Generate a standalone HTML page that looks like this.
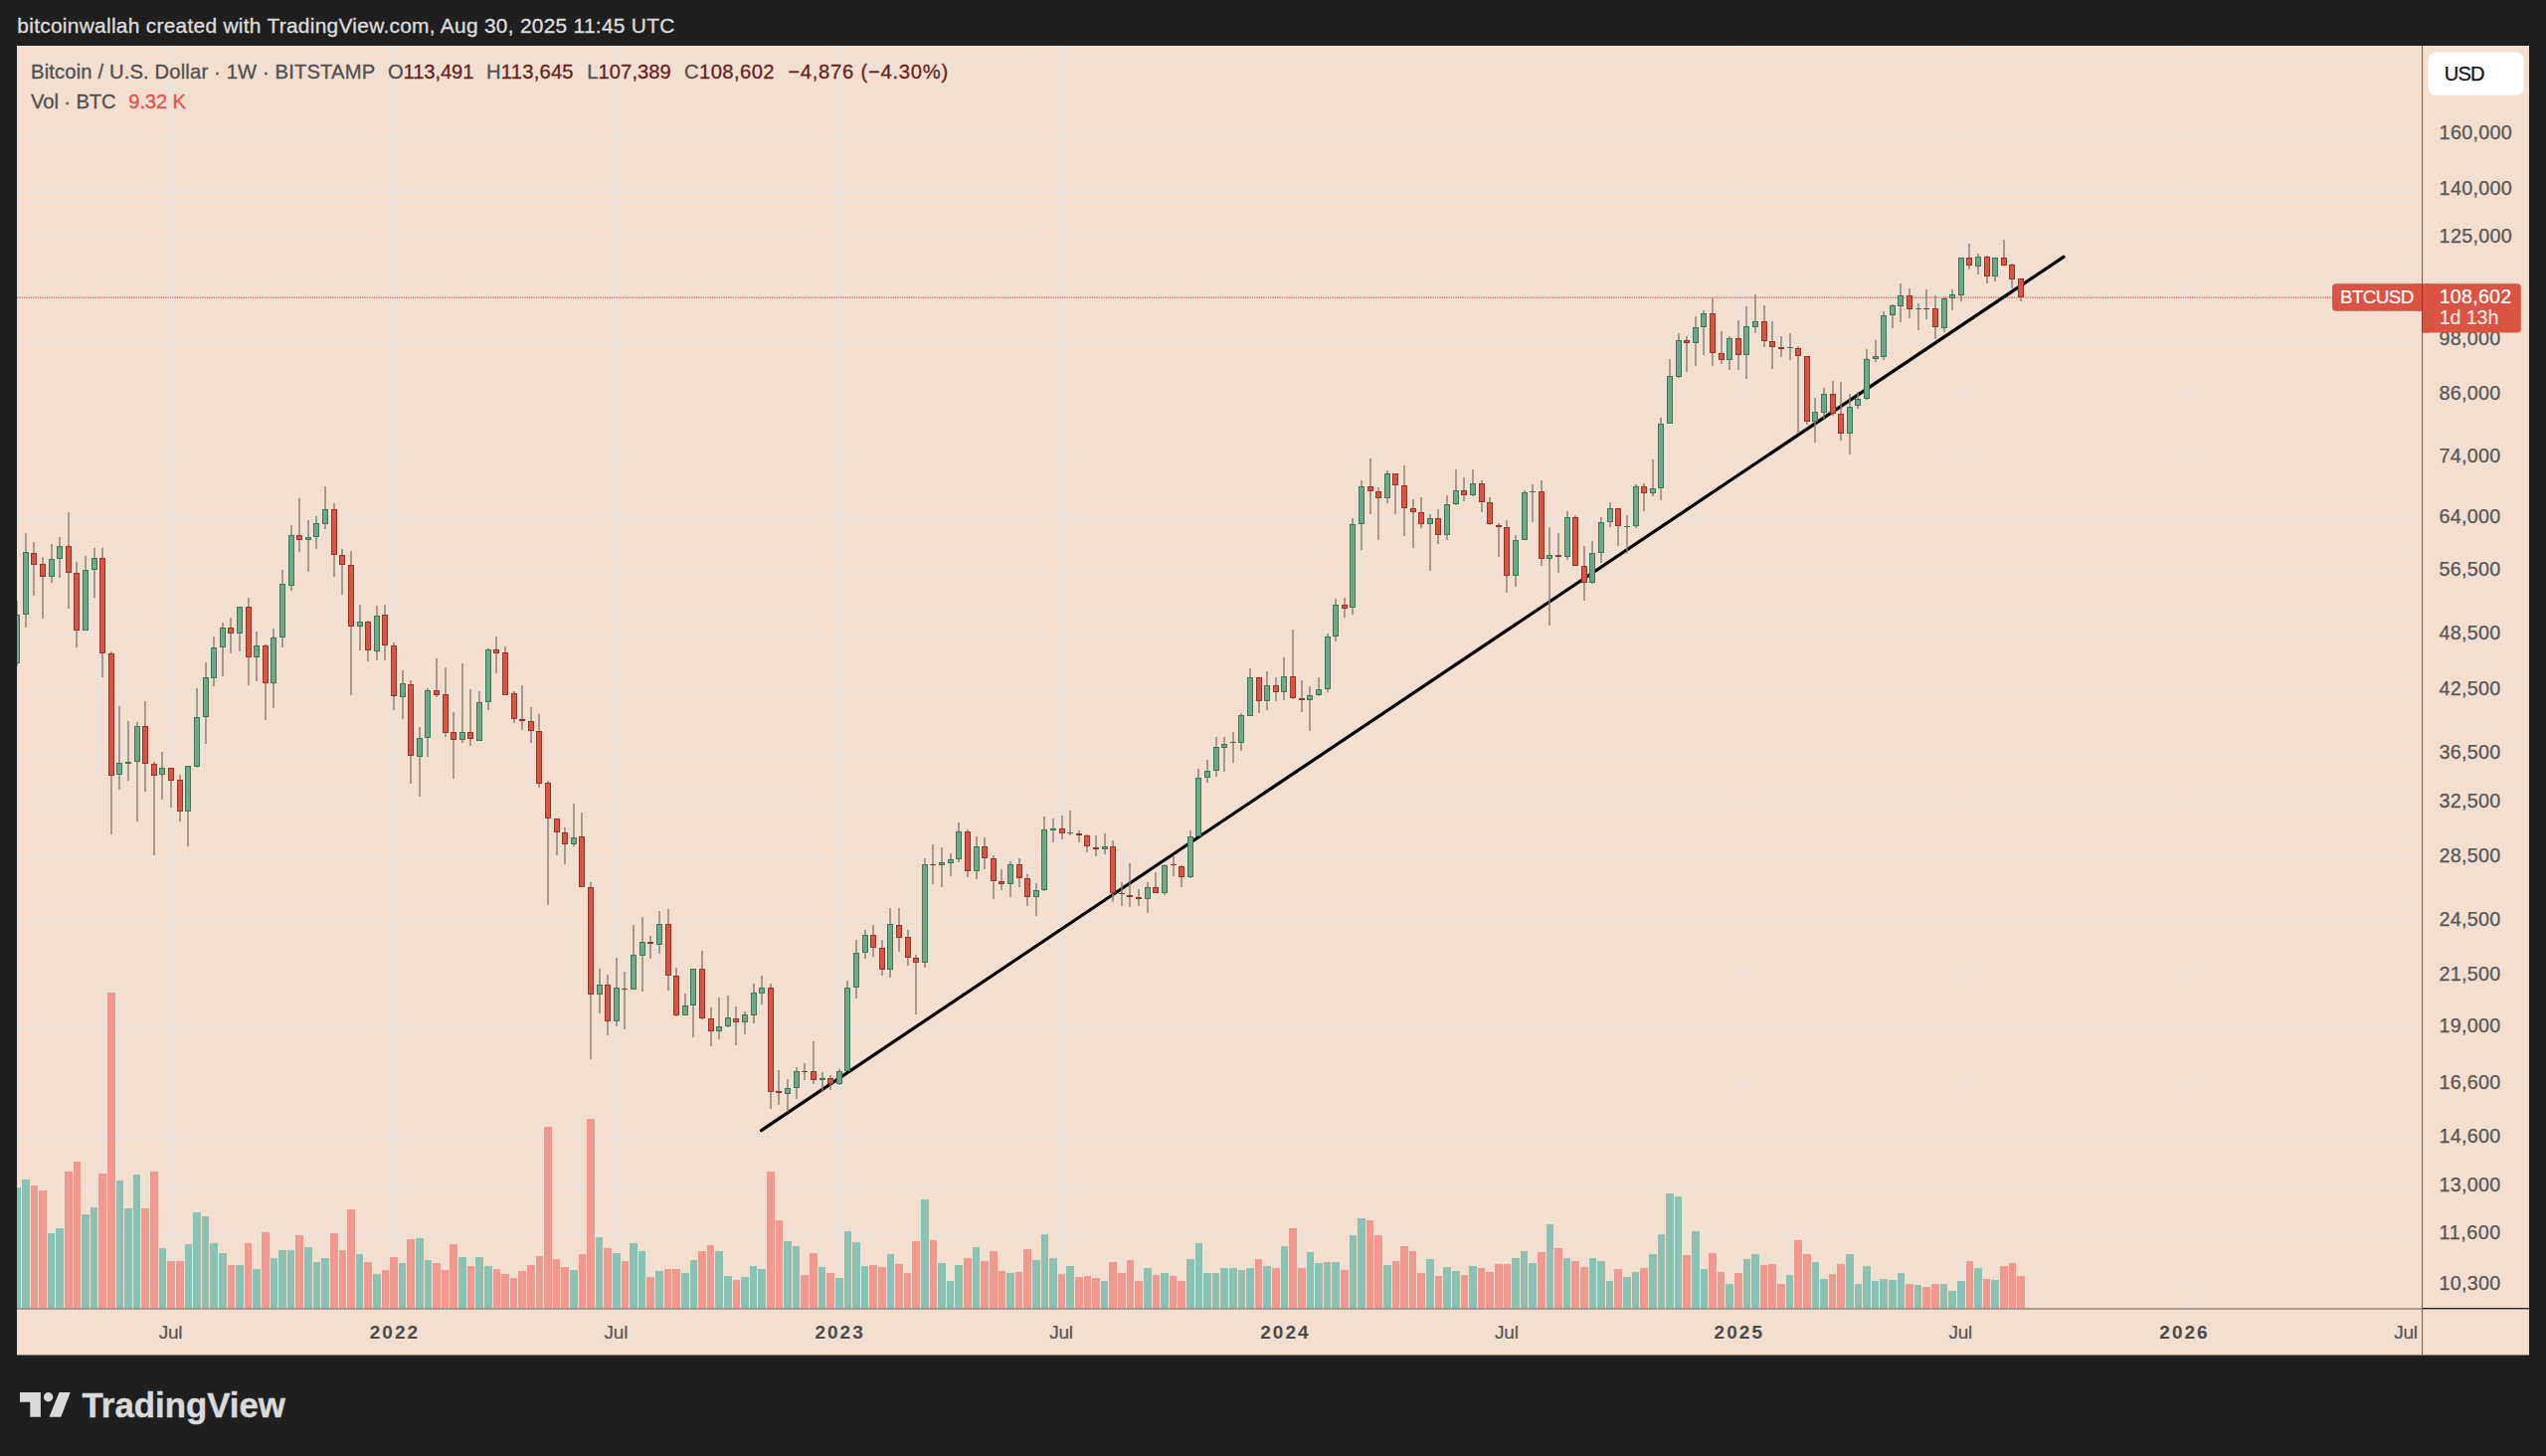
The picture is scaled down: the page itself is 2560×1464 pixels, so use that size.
<!DOCTYPE html>
<html lang="en"><head><meta charset="utf-8"><title>BTCUSD chart</title>
<style>html,body{margin:0;padding:0;background:#1f1f1f;}svg{display:block;}</style></head>
<body>
<svg width="2560" height="1464" viewBox="0 0 2560 1464" font-family="'Liberation Sans', Arial, sans-serif">
<rect width="2560" height="1464" fill="#1f1f1f"/>
<rect x="17" y="46" width="2526" height="1316.5" fill="#f2dfcf"/>
<defs><clipPath id="plot"><rect x="17" y="46" width="2418.5" height="1269.5"/></clipPath></defs>
<g stroke="#e6e4e4" stroke-width="1" shape-rendering="crispEdges">
<line x1="17" x2="2435" y1="63.5" y2="63.5"/>
<line x1="17" x2="2435" y1="135.5" y2="135.5"/>
<line x1="17" x2="2435" y1="192.5" y2="192.5"/>
<line x1="17" x2="2435" y1="239.5" y2="239.5"/>
<line x1="17" x2="2435" y1="293.5" y2="293.5"/>
<line x1="17" x2="2435" y1="342.5" y2="342.5"/>
<line x1="17" x2="2435" y1="397.5" y2="397.5"/>
<line x1="17" x2="2435" y1="460.5" y2="460.5"/>
<line x1="17" x2="2435" y1="521.5" y2="521.5"/>
<line x1="17" x2="2435" y1="574.5" y2="574.5"/>
<line x1="17" x2="2435" y1="638.5" y2="638.5"/>
<line x1="17" x2="2435" y1="694.5" y2="694.5"/>
<line x1="17" x2="2435" y1="758.5" y2="758.5"/>
<line x1="17" x2="2435" y1="807.5" y2="807.5"/>
<line x1="17" x2="2435" y1="862.5" y2="862.5"/>
<line x1="17" x2="2435" y1="926.5" y2="926.5"/>
<line x1="17" x2="2435" y1="981.5" y2="981.5"/>
<line x1="17" x2="2435" y1="1033.5" y2="1033.5"/>
<line x1="17" x2="2435" y1="1090.5" y2="1090.5"/>
<line x1="17" x2="2435" y1="1144.5" y2="1144.5"/>
<line x1="17" x2="2435" y1="1193.5" y2="1193.5"/>
<line x1="17" x2="2435" y1="1241.5" y2="1241.5"/>
<line x1="17" x2="2435" y1="1291.5" y2="1291.5"/>
<line x1="172.5" x2="172.5" y1="46" y2="1315"/>
<line x1="396.5" x2="396.5" y1="46" y2="1315"/>
<line x1="620.5" x2="620.5" y1="46" y2="1315"/>
<line x1="844.5" x2="844.5" y1="46" y2="1315"/>
<line x1="1068.5" x2="1068.5" y1="46" y2="1315"/>
<line x1="1291.5" x2="1291.5" y1="46" y2="1315"/>
<line x1="1515.5" x2="1515.5" y1="46" y2="1315"/>
<line x1="1748.5" x2="1748.5" y1="46" y2="1315"/>
<line x1="1972.5" x2="1972.5" y1="46" y2="1315"/>
<line x1="2196.5" x2="2196.5" y1="46" y2="1315"/>
<line x1="2419.5" x2="2419.5" y1="46" y2="1315"/>
</g>
<g clip-path="url(#plot)">
<g shape-rendering="crispEdges">
<rect x="13" y="1194.4" width="8" height="121.1" fill="rgba(38,166,154,0.5)"/>
<rect x="22" y="1186.2" width="8" height="129.3" fill="rgba(38,166,154,0.5)"/>
<rect x="31" y="1191.8" width="7" height="123.7" fill="rgba(239,83,80,0.5)"/>
<rect x="39" y="1197.2" width="8" height="118.3" fill="rgba(239,83,80,0.5)"/>
<rect x="48" y="1240.4" width="7" height="75.1" fill="rgba(38,166,154,0.5)"/>
<rect x="56" y="1235.0" width="8" height="80.5" fill="rgba(38,166,154,0.5)"/>
<rect x="65" y="1177.8" width="8" height="137.7" fill="rgba(239,83,80,0.5)"/>
<rect x="74" y="1168.0" width="7" height="147.5" fill="rgba(239,83,80,0.5)"/>
<rect x="82" y="1221.0" width="8" height="94.5" fill="rgba(38,166,154,0.5)"/>
<rect x="91" y="1214.2" width="7" height="101.3" fill="rgba(38,166,154,0.5)"/>
<rect x="99" y="1180.4" width="8" height="135.1" fill="rgba(239,83,80,0.5)"/>
<rect x="108" y="998.0" width="8" height="317.5" fill="rgba(239,83,80,0.5)"/>
<rect x="117" y="1187.2" width="7" height="128.3" fill="rgba(38,166,154,0.5)"/>
<rect x="125" y="1215.2" width="8" height="100.3" fill="rgba(38,166,154,0.5)"/>
<rect x="134" y="1181.3" width="7" height="134.2" fill="rgba(38,166,154,0.5)"/>
<rect x="142" y="1215.2" width="8" height="100.3" fill="rgba(239,83,80,0.5)"/>
<rect x="151" y="1177.8" width="8" height="137.7" fill="rgba(239,83,80,0.5)"/>
<rect x="160" y="1254.9" width="7" height="60.6" fill="rgba(38,166,154,0.5)"/>
<rect x="168" y="1268.0" width="8" height="47.5" fill="rgba(239,83,80,0.5)"/>
<rect x="177" y="1268.0" width="8" height="47.5" fill="rgba(239,83,80,0.5)"/>
<rect x="186" y="1250.9" width="7" height="64.6" fill="rgba(38,166,154,0.5)"/>
<rect x="194" y="1218.9" width="8" height="96.6" fill="rgba(38,166,154,0.5)"/>
<rect x="203" y="1222.9" width="7" height="92.6" fill="rgba(38,166,154,0.5)"/>
<rect x="211" y="1250.2" width="8" height="65.3" fill="rgba(38,166,154,0.5)"/>
<rect x="220" y="1259.5" width="8" height="56.0" fill="rgba(38,166,154,0.5)"/>
<rect x="229" y="1272.4" width="7" height="43.1" fill="rgba(239,83,80,0.5)"/>
<rect x="237" y="1272.4" width="8" height="43.1" fill="rgba(38,166,154,0.5)"/>
<rect x="246" y="1250.2" width="7" height="65.3" fill="rgba(239,83,80,0.5)"/>
<rect x="254" y="1276.1" width="8" height="39.4" fill="rgba(38,166,154,0.5)"/>
<rect x="263" y="1238.8" width="8" height="76.7" fill="rgba(239,83,80,0.5)"/>
<rect x="272" y="1264.9" width="7" height="50.6" fill="rgba(38,166,154,0.5)"/>
<rect x="280" y="1257.4" width="8" height="58.1" fill="rgba(38,166,154,0.5)"/>
<rect x="289" y="1256.5" width="7" height="59.0" fill="rgba(38,166,154,0.5)"/>
<rect x="297" y="1242.3" width="8" height="73.2" fill="rgba(239,83,80,0.5)"/>
<rect x="306" y="1253.9" width="8" height="61.6" fill="rgba(38,166,154,0.5)"/>
<rect x="315" y="1269.1" width="7" height="46.4" fill="rgba(38,166,154,0.5)"/>
<rect x="323" y="1264.9" width="8" height="50.6" fill="rgba(38,166,154,0.5)"/>
<rect x="332" y="1240.4" width="8" height="75.1" fill="rgba(239,83,80,0.5)"/>
<rect x="341" y="1257.4" width="7" height="58.1" fill="rgba(239,83,80,0.5)"/>
<rect x="349" y="1216.2" width="8" height="99.3" fill="rgba(239,83,80,0.5)"/>
<rect x="358" y="1261.2" width="7" height="54.3" fill="rgba(38,166,154,0.5)"/>
<rect x="366" y="1268.9" width="8" height="46.6" fill="rgba(239,83,80,0.5)"/>
<rect x="375" y="1281.1" width="8" height="34.4" fill="rgba(38,166,154,0.5)"/>
<rect x="384" y="1277.1" width="7" height="38.4" fill="rgba(239,83,80,0.5)"/>
<rect x="392" y="1264.1" width="8" height="51.4" fill="rgba(239,83,80,0.5)"/>
<rect x="401" y="1269.6" width="7" height="45.9" fill="rgba(38,166,154,0.5)"/>
<rect x="409" y="1246.2" width="8" height="69.3" fill="rgba(239,83,80,0.5)"/>
<rect x="418" y="1245.2" width="8" height="70.3" fill="rgba(38,166,154,0.5)"/>
<rect x="427" y="1267.1" width="7" height="48.4" fill="rgba(38,166,154,0.5)"/>
<rect x="435" y="1269.6" width="8" height="45.9" fill="rgba(239,83,80,0.5)"/>
<rect x="444" y="1277.1" width="7" height="38.4" fill="rgba(239,83,80,0.5)"/>
<rect x="452" y="1251.0" width="8" height="64.5" fill="rgba(239,83,80,0.5)"/>
<rect x="461" y="1264.1" width="8" height="51.4" fill="rgba(38,166,154,0.5)"/>
<rect x="470" y="1273.3" width="7" height="42.2" fill="rgba(239,83,80,0.5)"/>
<rect x="478" y="1264.1" width="8" height="51.4" fill="rgba(38,166,154,0.5)"/>
<rect x="487" y="1273.3" width="8" height="42.2" fill="rgba(38,166,154,0.5)"/>
<rect x="496" y="1276.2" width="7" height="39.3" fill="rgba(239,83,80,0.5)"/>
<rect x="504" y="1281.1" width="8" height="34.4" fill="rgba(239,83,80,0.5)"/>
<rect x="513" y="1284.7" width="7" height="30.8" fill="rgba(239,83,80,0.5)"/>
<rect x="521" y="1278.1" width="8" height="37.4" fill="rgba(239,83,80,0.5)"/>
<rect x="530" y="1272.3" width="8" height="43.2" fill="rgba(239,83,80,0.5)"/>
<rect x="539" y="1263.2" width="7" height="52.2" fill="rgba(239,83,80,0.5)"/>
<rect x="547" y="1133.3" width="8" height="182.2" fill="rgba(239,83,80,0.5)"/>
<rect x="556" y="1266.0" width="7" height="49.5" fill="rgba(239,83,80,0.5)"/>
<rect x="564" y="1274.2" width="8" height="41.2" fill="rgba(239,83,80,0.5)"/>
<rect x="573" y="1277.1" width="8" height="38.4" fill="rgba(38,166,154,0.5)"/>
<rect x="582" y="1261.2" width="7" height="54.3" fill="rgba(239,83,80,0.5)"/>
<rect x="590" y="1125.1" width="8" height="190.4" fill="rgba(239,83,80,0.5)"/>
<rect x="599" y="1244.3" width="7" height="71.2" fill="rgba(38,166,154,0.5)"/>
<rect x="607" y="1254.7" width="8" height="60.8" fill="rgba(239,83,80,0.5)"/>
<rect x="616" y="1260.2" width="8" height="55.3" fill="rgba(38,166,154,0.5)"/>
<rect x="625" y="1267.9" width="7" height="47.6" fill="rgba(239,83,80,0.5)"/>
<rect x="633" y="1250.0" width="8" height="65.5" fill="rgba(38,166,154,0.5)"/>
<rect x="642" y="1258.3" width="7" height="57.2" fill="rgba(38,166,154,0.5)"/>
<rect x="650" y="1283.9" width="8" height="31.6" fill="rgba(239,83,80,0.5)"/>
<rect x="659" y="1278.1" width="8" height="37.4" fill="rgba(38,166,154,0.5)"/>
<rect x="668" y="1276.2" width="7" height="39.3" fill="rgba(239,83,80,0.5)"/>
<rect x="676" y="1276.2" width="8" height="39.3" fill="rgba(239,83,80,0.5)"/>
<rect x="685" y="1280.2" width="8" height="35.3" fill="rgba(38,166,154,0.5)"/>
<rect x="694" y="1267.1" width="7" height="48.4" fill="rgba(38,166,154,0.5)"/>
<rect x="702" y="1257.5" width="8" height="58.0" fill="rgba(239,83,80,0.5)"/>
<rect x="711" y="1252.0" width="7" height="63.5" fill="rgba(239,83,80,0.5)"/>
<rect x="719" y="1258.4" width="8" height="57.1" fill="rgba(38,166,154,0.5)"/>
<rect x="728" y="1283.0" width="8" height="32.5" fill="rgba(38,166,154,0.5)"/>
<rect x="737" y="1286.6" width="7" height="28.9" fill="rgba(239,83,80,0.5)"/>
<rect x="745" y="1283.9" width="8" height="31.6" fill="rgba(38,166,154,0.5)"/>
<rect x="754" y="1273.3" width="7" height="42.2" fill="rgba(38,166,154,0.5)"/>
<rect x="762" y="1276.3" width="8" height="39.2" fill="rgba(38,166,154,0.5)"/>
<rect x="771" y="1178.4" width="8" height="137.1" fill="rgba(239,83,80,0.5)"/>
<rect x="780" y="1226.5" width="7" height="89.0" fill="rgba(239,83,80,0.5)"/>
<rect x="788" y="1248.1" width="8" height="67.4" fill="rgba(38,166,154,0.5)"/>
<rect x="797" y="1252.9" width="7" height="62.6" fill="rgba(38,166,154,0.5)"/>
<rect x="805" y="1282.0" width="8" height="33.5" fill="rgba(239,83,80,0.5)"/>
<rect x="814" y="1260.2" width="8" height="55.3" fill="rgba(239,83,80,0.5)"/>
<rect x="823" y="1274.4" width="7" height="41.1" fill="rgba(38,166,154,0.5)"/>
<rect x="831" y="1280.2" width="8" height="35.3" fill="rgba(239,83,80,0.5)"/>
<rect x="840" y="1285.0" width="8" height="30.5" fill="rgba(38,166,154,0.5)"/>
<rect x="849" y="1237.8" width="7" height="77.7" fill="rgba(38,166,154,0.5)"/>
<rect x="857" y="1249.1" width="8" height="66.4" fill="rgba(38,166,154,0.5)"/>
<rect x="866" y="1272.6" width="7" height="42.9" fill="rgba(38,166,154,0.5)"/>
<rect x="874" y="1271.5" width="8" height="44.0" fill="rgba(239,83,80,0.5)"/>
<rect x="883" y="1274.4" width="8" height="41.1" fill="rgba(239,83,80,0.5)"/>
<rect x="892" y="1261.2" width="7" height="54.3" fill="rgba(38,166,154,0.5)"/>
<rect x="900" y="1270.8" width="8" height="44.7" fill="rgba(239,83,80,0.5)"/>
<rect x="909" y="1280.2" width="7" height="35.3" fill="rgba(239,83,80,0.5)"/>
<rect x="917" y="1248.1" width="8" height="67.4" fill="rgba(239,83,80,0.5)"/>
<rect x="926" y="1206.1" width="8" height="109.4" fill="rgba(38,166,154,0.5)"/>
<rect x="935" y="1247.2" width="7" height="68.3" fill="rgba(239,83,80,0.5)"/>
<rect x="943" y="1269.7" width="8" height="45.8" fill="rgba(38,166,154,0.5)"/>
<rect x="952" y="1287.5" width="7" height="28.0" fill="rgba(38,166,154,0.5)"/>
<rect x="960" y="1271.5" width="8" height="44.0" fill="rgba(38,166,154,0.5)"/>
<rect x="969" y="1265.0" width="8" height="50.5" fill="rgba(239,83,80,0.5)"/>
<rect x="978" y="1253.8" width="7" height="61.7" fill="rgba(38,166,154,0.5)"/>
<rect x="986" y="1267.9" width="8" height="47.6" fill="rgba(239,83,80,0.5)"/>
<rect x="995" y="1257.5" width="8" height="58.0" fill="rgba(239,83,80,0.5)"/>
<rect x="1004" y="1278.1" width="7" height="37.4" fill="rgba(239,83,80,0.5)"/>
<rect x="1012" y="1280.2" width="8" height="35.3" fill="rgba(38,166,154,0.5)"/>
<rect x="1021" y="1279.2" width="7" height="36.3" fill="rgba(239,83,80,0.5)"/>
<rect x="1029" y="1255.7" width="8" height="59.8" fill="rgba(239,83,80,0.5)"/>
<rect x="1038" y="1267.1" width="8" height="48.4" fill="rgba(38,166,154,0.5)"/>
<rect x="1047" y="1240.6" width="7" height="74.9" fill="rgba(38,166,154,0.5)"/>
<rect x="1055" y="1265.0" width="8" height="50.5" fill="rgba(38,166,154,0.5)"/>
<rect x="1064" y="1281.1" width="7" height="34.4" fill="rgba(239,83,80,0.5)"/>
<rect x="1072" y="1273.3" width="8" height="42.2" fill="rgba(38,166,154,0.5)"/>
<rect x="1081" y="1283.9" width="8" height="31.6" fill="rgba(239,83,80,0.5)"/>
<rect x="1090" y="1283.0" width="7" height="32.5" fill="rgba(239,83,80,0.5)"/>
<rect x="1098" y="1284.7" width="8" height="30.8" fill="rgba(239,83,80,0.5)"/>
<rect x="1107" y="1287.5" width="7" height="28.0" fill="rgba(38,166,154,0.5)"/>
<rect x="1115" y="1268.9" width="8" height="46.6" fill="rgba(239,83,80,0.5)"/>
<rect x="1124" y="1280.2" width="8" height="35.3" fill="rgba(239,83,80,0.5)"/>
<rect x="1133" y="1267.1" width="7" height="48.4" fill="rgba(239,83,80,0.5)"/>
<rect x="1141" y="1287.5" width="8" height="28.0" fill="rgba(239,83,80,0.5)"/>
<rect x="1150" y="1275.3" width="8" height="40.2" fill="rgba(38,166,154,0.5)"/>
<rect x="1159" y="1282.2" width="7" height="33.3" fill="rgba(239,83,80,0.5)"/>
<rect x="1167" y="1280.2" width="8" height="35.3" fill="rgba(38,166,154,0.5)"/>
<rect x="1176" y="1283.0" width="7" height="32.5" fill="rgba(239,83,80,0.5)"/>
<rect x="1184" y="1287.5" width="8" height="28.0" fill="rgba(239,83,80,0.5)"/>
<rect x="1193" y="1266.0" width="8" height="49.5" fill="rgba(38,166,154,0.5)"/>
<rect x="1202" y="1250.0" width="7" height="65.5" fill="rgba(38,166,154,0.5)"/>
<rect x="1210" y="1280.2" width="8" height="35.3" fill="rgba(38,166,154,0.5)"/>
<rect x="1219" y="1280.2" width="7" height="35.3" fill="rgba(38,166,154,0.5)"/>
<rect x="1227" y="1275.3" width="8" height="40.2" fill="rgba(38,166,154,0.5)"/>
<rect x="1236" y="1275.3" width="8" height="40.2" fill="rgba(38,166,154,0.5)"/>
<rect x="1245" y="1277.1" width="7" height="38.4" fill="rgba(38,166,154,0.5)"/>
<rect x="1253" y="1275.3" width="8" height="40.2" fill="rgba(38,166,154,0.5)"/>
<rect x="1262" y="1266.0" width="7" height="49.5" fill="rgba(239,83,80,0.5)"/>
<rect x="1270" y="1273.3" width="8" height="42.2" fill="rgba(38,166,154,0.5)"/>
<rect x="1279" y="1275.3" width="8" height="40.2" fill="rgba(239,83,80,0.5)"/>
<rect x="1288" y="1252.9" width="7" height="62.6" fill="rgba(38,166,154,0.5)"/>
<rect x="1296" y="1235.2" width="8" height="80.3" fill="rgba(239,83,80,0.5)"/>
<rect x="1305" y="1275.3" width="8" height="40.2" fill="rgba(239,83,80,0.5)"/>
<rect x="1314" y="1259.4" width="7" height="56.1" fill="rgba(38,166,154,0.5)"/>
<rect x="1322" y="1269.8" width="8" height="45.7" fill="rgba(38,166,154,0.5)"/>
<rect x="1331" y="1268.9" width="7" height="46.6" fill="rgba(38,166,154,0.5)"/>
<rect x="1339" y="1268.9" width="8" height="46.6" fill="rgba(38,166,154,0.5)"/>
<rect x="1348" y="1277.1" width="8" height="38.4" fill="rgba(239,83,80,0.5)"/>
<rect x="1357" y="1242.3" width="7" height="73.2" fill="rgba(38,166,154,0.5)"/>
<rect x="1365" y="1224.8" width="8" height="90.7" fill="rgba(38,166,154,0.5)"/>
<rect x="1374" y="1226.5" width="7" height="89.0" fill="rgba(239,83,80,0.5)"/>
<rect x="1382" y="1242.3" width="8" height="73.2" fill="rgba(239,83,80,0.5)"/>
<rect x="1391" y="1271.5" width="8" height="44.0" fill="rgba(38,166,154,0.5)"/>
<rect x="1400" y="1267.9" width="7" height="47.6" fill="rgba(239,83,80,0.5)"/>
<rect x="1408" y="1252.9" width="8" height="62.6" fill="rgba(239,83,80,0.5)"/>
<rect x="1417" y="1257.5" width="7" height="58.0" fill="rgba(239,83,80,0.5)"/>
<rect x="1425" y="1280.2" width="8" height="35.3" fill="rgba(239,83,80,0.5)"/>
<rect x="1434" y="1266.0" width="8" height="49.5" fill="rgba(38,166,154,0.5)"/>
<rect x="1443" y="1283.0" width="7" height="32.5" fill="rgba(239,83,80,0.5)"/>
<rect x="1451" y="1274.4" width="8" height="41.1" fill="rgba(38,166,154,0.5)"/>
<rect x="1460" y="1278.1" width="8" height="37.4" fill="rgba(38,166,154,0.5)"/>
<rect x="1469" y="1282.2" width="7" height="33.3" fill="rgba(239,83,80,0.5)"/>
<rect x="1477" y="1273.3" width="8" height="42.2" fill="rgba(38,166,154,0.5)"/>
<rect x="1486" y="1275.3" width="7" height="40.2" fill="rgba(239,83,80,0.5)"/>
<rect x="1494" y="1279.2" width="8" height="36.3" fill="rgba(239,83,80,0.5)"/>
<rect x="1503" y="1270.8" width="8" height="44.7" fill="rgba(239,83,80,0.5)"/>
<rect x="1512" y="1270.8" width="7" height="44.7" fill="rgba(239,83,80,0.5)"/>
<rect x="1520" y="1265.0" width="8" height="50.5" fill="rgba(38,166,154,0.5)"/>
<rect x="1529" y="1258.4" width="7" height="57.1" fill="rgba(38,166,154,0.5)"/>
<rect x="1537" y="1269.8" width="8" height="45.7" fill="rgba(38,166,154,0.5)"/>
<rect x="1546" y="1259.4" width="8" height="56.1" fill="rgba(239,83,80,0.5)"/>
<rect x="1555" y="1231.4" width="7" height="84.1" fill="rgba(38,166,154,0.5)"/>
<rect x="1563" y="1254.7" width="8" height="60.8" fill="rgba(239,83,80,0.5)"/>
<rect x="1572" y="1265.0" width="7" height="50.5" fill="rgba(38,166,154,0.5)"/>
<rect x="1580" y="1267.9" width="8" height="47.6" fill="rgba(239,83,80,0.5)"/>
<rect x="1589" y="1274.4" width="8" height="41.1" fill="rgba(239,83,80,0.5)"/>
<rect x="1598" y="1265.0" width="7" height="50.5" fill="rgba(38,166,154,0.5)"/>
<rect x="1606" y="1267.9" width="8" height="47.6" fill="rgba(38,166,154,0.5)"/>
<rect x="1615" y="1287.5" width="7" height="28.0" fill="rgba(38,166,154,0.5)"/>
<rect x="1623" y="1276.3" width="8" height="39.2" fill="rgba(239,83,80,0.5)"/>
<rect x="1632" y="1283.9" width="8" height="31.6" fill="rgba(38,166,154,0.5)"/>
<rect x="1641" y="1279.2" width="7" height="36.3" fill="rgba(38,166,154,0.5)"/>
<rect x="1649" y="1275.3" width="8" height="40.2" fill="rgba(239,83,80,0.5)"/>
<rect x="1658" y="1261.2" width="8" height="54.3" fill="rgba(38,166,154,0.5)"/>
<rect x="1667" y="1240.6" width="7" height="74.9" fill="rgba(38,166,154,0.5)"/>
<rect x="1675" y="1200.3" width="8" height="115.2" fill="rgba(38,166,154,0.5)"/>
<rect x="1684" y="1203.2" width="7" height="112.3" fill="rgba(38,166,154,0.5)"/>
<rect x="1692" y="1262.3" width="8" height="53.2" fill="rgba(239,83,80,0.5)"/>
<rect x="1701" y="1237.8" width="8" height="77.7" fill="rgba(38,166,154,0.5)"/>
<rect x="1710" y="1276.3" width="7" height="39.2" fill="rgba(38,166,154,0.5)"/>
<rect x="1718" y="1260.2" width="8" height="55.3" fill="rgba(239,83,80,0.5)"/>
<rect x="1727" y="1279.2" width="7" height="36.3" fill="rgba(239,83,80,0.5)"/>
<rect x="1735" y="1290.5" width="8" height="25.0" fill="rgba(38,166,154,0.5)"/>
<rect x="1744" y="1280.2" width="8" height="35.3" fill="rgba(239,83,80,0.5)"/>
<rect x="1753" y="1266.0" width="7" height="49.5" fill="rgba(38,166,154,0.5)"/>
<rect x="1761" y="1261.2" width="8" height="54.3" fill="rgba(38,166,154,0.5)"/>
<rect x="1770" y="1271.5" width="7" height="44.0" fill="rgba(239,83,80,0.5)"/>
<rect x="1778" y="1270.8" width="8" height="44.7" fill="rgba(239,83,80,0.5)"/>
<rect x="1787" y="1291.3" width="8" height="24.2" fill="rgba(239,83,80,0.5)"/>
<rect x="1796" y="1282.2" width="7" height="33.3" fill="rgba(38,166,154,0.5)"/>
<rect x="1804" y="1247.2" width="8" height="68.3" fill="rgba(239,83,80,0.5)"/>
<rect x="1813" y="1261.2" width="8" height="54.3" fill="rgba(239,83,80,0.5)"/>
<rect x="1822" y="1268.9" width="7" height="46.6" fill="rgba(38,166,154,0.5)"/>
<rect x="1830" y="1285.8" width="8" height="29.7" fill="rgba(38,166,154,0.5)"/>
<rect x="1839" y="1281.1" width="7" height="34.4" fill="rgba(239,83,80,0.5)"/>
<rect x="1847" y="1270.8" width="8" height="44.7" fill="rgba(239,83,80,0.5)"/>
<rect x="1856" y="1261.2" width="8" height="54.3" fill="rgba(38,166,154,0.5)"/>
<rect x="1865" y="1291.3" width="7" height="24.2" fill="rgba(38,166,154,0.5)"/>
<rect x="1873" y="1273.3" width="8" height="42.2" fill="rgba(38,166,154,0.5)"/>
<rect x="1882" y="1287.5" width="7" height="28.0" fill="rgba(38,166,154,0.5)"/>
<rect x="1890" y="1285.8" width="8" height="29.7" fill="rgba(38,166,154,0.5)"/>
<rect x="1899" y="1286.6" width="8" height="28.9" fill="rgba(38,166,154,0.5)"/>
<rect x="1908" y="1280.2" width="7" height="35.3" fill="rgba(38,166,154,0.5)"/>
<rect x="1916" y="1291.3" width="8" height="24.2" fill="rgba(239,83,80,0.5)"/>
<rect x="1925" y="1292.3" width="7" height="23.2" fill="rgba(38,166,154,0.5)"/>
<rect x="1933" y="1294.2" width="8" height="21.3" fill="rgba(239,83,80,0.5)"/>
<rect x="1942" y="1291.3" width="8" height="24.2" fill="rgba(239,83,80,0.5)"/>
<rect x="1951" y="1290.5" width="7" height="25.0" fill="rgba(38,166,154,0.5)"/>
<rect x="1959" y="1298.0" width="8" height="17.5" fill="rgba(38,166,154,0.5)"/>
<rect x="1968" y="1287.5" width="8" height="28.0" fill="rgba(38,166,154,0.5)"/>
<rect x="1977" y="1267.9" width="7" height="47.6" fill="rgba(239,83,80,0.5)"/>
<rect x="1985" y="1275.3" width="8" height="40.2" fill="rgba(38,166,154,0.5)"/>
<rect x="1994" y="1285.8" width="7" height="29.7" fill="rgba(239,83,80,0.5)"/>
<rect x="2002" y="1286.6" width="8" height="28.9" fill="rgba(38,166,154,0.5)"/>
<rect x="2011" y="1272.6" width="8" height="42.9" fill="rgba(239,83,80,0.5)"/>
<rect x="2020" y="1269.8" width="7" height="45.7" fill="rgba(239,83,80,0.5)"/>
<rect x="2028" y="1283.0" width="8" height="32.5" fill="rgba(239,83,80,0.5)"/>
</g>
<line x1="17" x2="2435" y1="299.2" y2="299.2" stroke="#d95442" stroke-width="1.6" stroke-dasharray="1.1 1.2" opacity="0.85"/>
<line x1="765.5" y1="1136.7" x2="2074.9" y2="258.3" stroke="#000" stroke-width="3.2" stroke-linecap="round"/>
<g fill="#827c78">
<rect x="16.3" y="604" width="1.4" height="66"/>
<rect x="25.3" y="536" width="1.4" height="95"/>
<rect x="33.3" y="545" width="1.4" height="54"/>
<rect x="42.3" y="560" width="1.4" height="62"/>
<rect x="51.3" y="547" width="1.4" height="39"/>
<rect x="59.3" y="540" width="1.4" height="41"/>
<rect x="68.3" y="515" width="1.4" height="97"/>
<rect x="76.3" y="565" width="1.4" height="86"/>
<rect x="85.3" y="559" width="1.4" height="75"/>
<rect x="94.3" y="551" width="1.4" height="50"/>
<rect x="102.3" y="551" width="1.4" height="130"/>
<rect x="111.3" y="655" width="1.4" height="184"/>
<rect x="119.3" y="710" width="1.4" height="84"/>
<rect x="128.3" y="725" width="1.4" height="60"/>
<rect x="137.3" y="726" width="1.4" height="100"/>
<rect x="145.3" y="705" width="1.4" height="91"/>
<rect x="154.3" y="766" width="1.4" height="94"/>
<rect x="162.3" y="756" width="1.4" height="48"/>
<rect x="171.3" y="772" width="1.4" height="40"/>
<rect x="180.3" y="779" width="1.4" height="47"/>
<rect x="188.3" y="770" width="1.4" height="81"/>
<rect x="197.3" y="692" width="1.4" height="80"/>
<rect x="206.3" y="666" width="1.4" height="82"/>
<rect x="214.3" y="640" width="1.4" height="50"/>
<rect x="223.3" y="626" width="1.4" height="54"/>
<rect x="231.3" y="621" width="1.4" height="36"/>
<rect x="240.3" y="610" width="1.4" height="45"/>
<rect x="249.3" y="601" width="1.4" height="88"/>
<rect x="257.3" y="635" width="1.4" height="50"/>
<rect x="266.3" y="648" width="1.4" height="76"/>
<rect x="274.3" y="632" width="1.4" height="80"/>
<rect x="283.3" y="573" width="1.4" height="78"/>
<rect x="292.3" y="528" width="1.4" height="66"/>
<rect x="300.3" y="501" width="1.4" height="54"/>
<rect x="309.3" y="523" width="1.4" height="52"/>
<rect x="317.3" y="519" width="1.4" height="33"/>
<rect x="326.3" y="489" width="1.4" height="43"/>
<rect x="335.3" y="506" width="1.4" height="74"/>
<rect x="343.3" y="552" width="1.4" height="46"/>
<rect x="352.3" y="554" width="1.4" height="145"/>
<rect x="361.3" y="608" width="1.4" height="46"/>
<rect x="369.3" y="624" width="1.4" height="41"/>
<rect x="378.3" y="609" width="1.4" height="55"/>
<rect x="386.3" y="608" width="1.4" height="56"/>
<rect x="395.3" y="646" width="1.4" height="68"/>
<rect x="404.3" y="674" width="1.4" height="49"/>
<rect x="412.3" y="684" width="1.4" height="104"/>
<rect x="421.3" y="731" width="1.4" height="70"/>
<rect x="429.3" y="692" width="1.4" height="69"/>
<rect x="438.3" y="662" width="1.4" height="39"/>
<rect x="447.3" y="671" width="1.4" height="70"/>
<rect x="455.3" y="716" width="1.4" height="67"/>
<rect x="464.3" y="667" width="1.4" height="80"/>
<rect x="472.3" y="693" width="1.4" height="57"/>
<rect x="481.3" y="695" width="1.4" height="50"/>
<rect x="490.3" y="652" width="1.4" height="62"/>
<rect x="498.3" y="640" width="1.4" height="37"/>
<rect x="507.3" y="650" width="1.4" height="49"/>
<rect x="516.3" y="695" width="1.4" height="32"/>
<rect x="524.3" y="689" width="1.4" height="45"/>
<rect x="533.3" y="711" width="1.4" height="36"/>
<rect x="541.3" y="718" width="1.4" height="74"/>
<rect x="550.3" y="785" width="1.4" height="125"/>
<rect x="559.3" y="823" width="1.4" height="37"/>
<rect x="567.3" y="832" width="1.4" height="37"/>
<rect x="576.3" y="808" width="1.4" height="43"/>
<rect x="584.3" y="817" width="1.4" height="75"/>
<rect x="593.3" y="887" width="1.4" height="178"/>
<rect x="602.3" y="974" width="1.4" height="45"/>
<rect x="610.3" y="980" width="1.4" height="61"/>
<rect x="619.3" y="963" width="1.4" height="69"/>
<rect x="627.3" y="977" width="1.4" height="58"/>
<rect x="636.3" y="930" width="1.4" height="65"/>
<rect x="645.3" y="922" width="1.4" height="75"/>
<rect x="653.3" y="941" width="1.4" height="23"/>
<rect x="662.3" y="916" width="1.4" height="43"/>
<rect x="671.3" y="914" width="1.4" height="82"/>
<rect x="679.3" y="973" width="1.4" height="49"/>
<rect x="688.3" y="999" width="1.4" height="22"/>
<rect x="696.3" y="974" width="1.4" height="69"/>
<rect x="705.3" y="956" width="1.4" height="69"/>
<rect x="714.3" y="1013" width="1.4" height="39"/>
<rect x="722.3" y="1003" width="1.4" height="42"/>
<rect x="731.3" y="1001" width="1.4" height="32"/>
<rect x="739.3" y="1012" width="1.4" height="39"/>
<rect x="748.3" y="1017" width="1.4" height="23"/>
<rect x="757.3" y="989" width="1.4" height="40"/>
<rect x="765.3" y="981" width="1.4" height="29"/>
<rect x="774.3" y="989" width="1.4" height="126"/>
<rect x="782.3" y="1076" width="1.4" height="35"/>
<rect x="791.3" y="1085" width="1.4" height="33"/>
<rect x="800.3" y="1073" width="1.4" height="32"/>
<rect x="808.3" y="1069" width="1.4" height="17"/>
<rect x="817.3" y="1047" width="1.4" height="43"/>
<rect x="826.3" y="1078" width="1.4" height="20"/>
<rect x="834.3" y="1081" width="1.4" height="15"/>
<rect x="843.3" y="1075" width="1.4" height="16"/>
<rect x="851.3" y="986" width="1.4" height="91"/>
<rect x="860.3" y="945" width="1.4" height="59"/>
<rect x="869.3" y="935" width="1.4" height="29"/>
<rect x="877.3" y="930" width="1.4" height="32"/>
<rect x="886.3" y="945" width="1.4" height="36"/>
<rect x="894.3" y="913" width="1.4" height="70"/>
<rect x="903.3" y="913" width="1.4" height="44"/>
<rect x="912.3" y="935" width="1.4" height="36"/>
<rect x="920.3" y="960" width="1.4" height="60"/>
<rect x="929.3" y="863" width="1.4" height="110"/>
<rect x="937.3" y="849" width="1.4" height="40"/>
<rect x="946.3" y="852" width="1.4" height="40"/>
<rect x="955.3" y="858" width="1.4" height="23"/>
<rect x="963.3" y="827" width="1.4" height="40"/>
<rect x="972.3" y="834" width="1.4" height="48"/>
<rect x="981.3" y="841" width="1.4" height="43"/>
<rect x="989.3" y="842" width="1.4" height="32"/>
<rect x="998.3" y="860" width="1.4" height="44"/>
<rect x="1006.3" y="874" width="1.4" height="21"/>
<rect x="1015.3" y="866" width="1.4" height="36"/>
<rect x="1024.3" y="863" width="1.4" height="29"/>
<rect x="1032.3" y="879" width="1.4" height="32"/>
<rect x="1041.3" y="888" width="1.4" height="33"/>
<rect x="1049.3" y="821" width="1.4" height="75"/>
<rect x="1058.3" y="823" width="1.4" height="24"/>
<rect x="1067.3" y="820" width="1.4" height="24"/>
<rect x="1075.3" y="815" width="1.4" height="25"/>
<rect x="1084.3" y="835" width="1.4" height="12"/>
<rect x="1092.3" y="839" width="1.4" height="18"/>
<rect x="1101.3" y="840" width="1.4" height="21"/>
<rect x="1110.3" y="838" width="1.4" height="21"/>
<rect x="1118.3" y="845" width="1.4" height="62"/>
<rect x="1127.3" y="887" width="1.4" height="24"/>
<rect x="1135.3" y="868" width="1.4" height="44"/>
<rect x="1144.3" y="894" width="1.4" height="17"/>
<rect x="1153.3" y="887" width="1.4" height="31"/>
<rect x="1161.3" y="877" width="1.4" height="21"/>
<rect x="1170.3" y="869" width="1.4" height="31"/>
<rect x="1179.3" y="861" width="1.4" height="20"/>
<rect x="1187.3" y="870" width="1.4" height="22"/>
<rect x="1196.3" y="835" width="1.4" height="48"/>
<rect x="1204.3" y="773" width="1.4" height="68"/>
<rect x="1213.3" y="764" width="1.4" height="23"/>
<rect x="1222.3" y="741" width="1.4" height="40"/>
<rect x="1230.3" y="741" width="1.4" height="35"/>
<rect x="1239.3" y="736" width="1.4" height="31"/>
<rect x="1247.3" y="717" width="1.4" height="38"/>
<rect x="1256.3" y="672" width="1.4" height="48"/>
<rect x="1265.3" y="681" width="1.4" height="36"/>
<rect x="1273.3" y="675" width="1.4" height="39"/>
<rect x="1282.3" y="681" width="1.4" height="24"/>
<rect x="1290.3" y="661" width="1.4" height="43"/>
<rect x="1299.3" y="633" width="1.4" height="70"/>
<rect x="1308.3" y="684" width="1.4" height="32"/>
<rect x="1316.3" y="690" width="1.4" height="45"/>
<rect x="1325.3" y="681" width="1.4" height="19"/>
<rect x="1334.3" y="637" width="1.4" height="59"/>
<rect x="1342.3" y="602" width="1.4" height="43"/>
<rect x="1351.3" y="601" width="1.4" height="20"/>
<rect x="1359.3" y="521" width="1.4" height="97"/>
<rect x="1368.3" y="483" width="1.4" height="70"/>
<rect x="1377.3" y="461" width="1.4" height="56"/>
<rect x="1385.3" y="490" width="1.4" height="53"/>
<rect x="1394.3" y="473" width="1.4" height="33"/>
<rect x="1402.3" y="476" width="1.4" height="41"/>
<rect x="1411.3" y="468" width="1.4" height="71"/>
<rect x="1420.3" y="502" width="1.4" height="49"/>
<rect x="1428.3" y="500" width="1.4" height="31"/>
<rect x="1437.3" y="517" width="1.4" height="57"/>
<rect x="1445.3" y="512" width="1.4" height="35"/>
<rect x="1454.3" y="498" width="1.4" height="45"/>
<rect x="1463.3" y="472" width="1.4" height="36"/>
<rect x="1471.3" y="480" width="1.4" height="24"/>
<rect x="1480.3" y="472" width="1.4" height="27"/>
<rect x="1489.3" y="483" width="1.4" height="32"/>
<rect x="1497.3" y="500" width="1.4" height="28"/>
<rect x="1506.3" y="526" width="1.4" height="34"/>
<rect x="1514.3" y="523" width="1.4" height="73"/>
<rect x="1523.3" y="538" width="1.4" height="52"/>
<rect x="1532.3" y="493" width="1.4" height="50"/>
<rect x="1540.3" y="487" width="1.4" height="38"/>
<rect x="1549.3" y="483" width="1.4" height="86"/>
<rect x="1557.3" y="530" width="1.4" height="99"/>
<rect x="1566.3" y="536" width="1.4" height="40"/>
<rect x="1575.3" y="514" width="1.4" height="49"/>
<rect x="1583.3" y="518" width="1.4" height="51"/>
<rect x="1592.3" y="549" width="1.4" height="55"/>
<rect x="1600.3" y="544" width="1.4" height="43"/>
<rect x="1609.3" y="520" width="1.4" height="46"/>
<rect x="1618.3" y="505" width="1.4" height="25"/>
<rect x="1626.3" y="511" width="1.4" height="38"/>
<rect x="1635.3" y="518" width="1.4" height="38"/>
<rect x="1644.3" y="487" width="1.4" height="44"/>
<rect x="1652.3" y="486" width="1.4" height="28"/>
<rect x="1661.3" y="462" width="1.4" height="37"/>
<rect x="1669.3" y="420" width="1.4" height="83"/>
<rect x="1678.3" y="361" width="1.4" height="65"/>
<rect x="1687.3" y="335" width="1.4" height="45"/>
<rect x="1695.3" y="338" width="1.4" height="36"/>
<rect x="1704.3" y="318" width="1.4" height="50"/>
<rect x="1712.3" y="312" width="1.4" height="45"/>
<rect x="1721.3" y="300" width="1.4" height="68"/>
<rect x="1730.3" y="333" width="1.4" height="33"/>
<rect x="1738.3" y="338" width="1.4" height="34"/>
<rect x="1747.3" y="322" width="1.4" height="50"/>
<rect x="1755.3" y="308" width="1.4" height="73"/>
<rect x="1764.3" y="296" width="1.4" height="39"/>
<rect x="1773.3" y="307" width="1.4" height="42"/>
<rect x="1781.3" y="323" width="1.4" height="48"/>
<rect x="1790.3" y="338" width="1.4" height="21"/>
<rect x="1799.3" y="335" width="1.4" height="27"/>
<rect x="1807.3" y="348" width="1.4" height="88"/>
<rect x="1816.3" y="358" width="1.4" height="69"/>
<rect x="1824.3" y="400" width="1.4" height="45"/>
<rect x="1833.3" y="390" width="1.4" height="31"/>
<rect x="1842.3" y="383" width="1.4" height="35"/>
<rect x="1850.3" y="384" width="1.4" height="59"/>
<rect x="1859.3" y="396" width="1.4" height="61"/>
<rect x="1867.3" y="394" width="1.4" height="17"/>
<rect x="1876.3" y="351" width="1.4" height="51"/>
<rect x="1885.3" y="342" width="1.4" height="22"/>
<rect x="1893.3" y="313" width="1.4" height="49"/>
<rect x="1902.3" y="306" width="1.4" height="24"/>
<rect x="1910.3" y="285" width="1.4" height="39"/>
<rect x="1919.3" y="290" width="1.4" height="30"/>
<rect x="1928.3" y="305" width="1.4" height="27"/>
<rect x="1936.3" y="291" width="1.4" height="30"/>
<rect x="1945.3" y="297" width="1.4" height="44"/>
<rect x="1954.3" y="299" width="1.4" height="35"/>
<rect x="1962.3" y="291" width="1.4" height="21"/>
<rect x="1971.3" y="259" width="1.4" height="44"/>
<rect x="1979.3" y="245" width="1.4" height="26"/>
<rect x="1988.3" y="255" width="1.4" height="21"/>
<rect x="1997.3" y="257" width="1.4" height="28"/>
<rect x="2005.3" y="259" width="1.4" height="24"/>
<rect x="2014.3" y="241" width="1.4" height="26"/>
<rect x="2022.3" y="265" width="1.4" height="25"/>
<rect x="2031.3" y="280" width="1.4" height="23"/>
</g>
<g shape-rendering="crispEdges">
<rect x="14" y="618" width="6" height="49" fill="#3a7757"/><rect x="15" y="619" width="4" height="47" fill="#6fa886"/>
<rect x="23" y="555" width="6" height="63" fill="#3a7757"/><rect x="24" y="556" width="4" height="61" fill="#6fa886"/>
<rect x="31" y="556" width="6" height="12" fill="#98332a"/><rect x="32" y="557" width="4" height="10" fill="#d95442"/>
<rect x="40" y="567" width="6" height="13" fill="#98332a"/><rect x="41" y="568" width="4" height="11" fill="#d95442"/>
<rect x="49" y="562" width="6" height="18" fill="#3a7757"/><rect x="50" y="563" width="4" height="16" fill="#6fa886"/>
<rect x="57" y="549" width="6" height="13" fill="#3a7757"/><rect x="58" y="550" width="4" height="11" fill="#6fa886"/>
<rect x="66" y="549" width="6" height="27" fill="#98332a"/><rect x="67" y="550" width="4" height="25" fill="#d95442"/>
<rect x="74" y="576" width="6" height="58" fill="#98332a"/><rect x="75" y="577" width="4" height="56" fill="#d95442"/>
<rect x="83" y="573" width="6" height="61" fill="#3a7757"/><rect x="84" y="574" width="4" height="59" fill="#6fa886"/>
<rect x="92" y="561" width="6" height="12" fill="#3a7757"/><rect x="93" y="562" width="4" height="10" fill="#6fa886"/>
<rect x="100" y="561" width="6" height="96" fill="#98332a"/><rect x="101" y="562" width="4" height="94" fill="#d95442"/>
<rect x="109" y="657" width="6" height="123" fill="#98332a"/><rect x="110" y="658" width="4" height="121" fill="#d95442"/>
<rect x="117" y="767" width="6" height="12" fill="#3a7757"/><rect x="118" y="768" width="4" height="10" fill="#6fa886"/>
<rect x="126" y="766" width="6" height="2" fill="#3a7757"/>
<rect x="135" y="730" width="6" height="36" fill="#3a7757"/><rect x="136" y="731" width="4" height="34" fill="#6fa886"/>
<rect x="143" y="730" width="6" height="38" fill="#98332a"/><rect x="144" y="731" width="4" height="36" fill="#d95442"/>
<rect x="152" y="768" width="6" height="12" fill="#98332a"/><rect x="153" y="769" width="4" height="10" fill="#d95442"/>
<rect x="160" y="772" width="6" height="7" fill="#3a7757"/><rect x="161" y="773" width="4" height="5" fill="#6fa886"/>
<rect x="169" y="772" width="6" height="13" fill="#98332a"/><rect x="170" y="773" width="4" height="11" fill="#d95442"/>
<rect x="178" y="784" width="6" height="32" fill="#98332a"/><rect x="179" y="785" width="4" height="30" fill="#d95442"/>
<rect x="186" y="770" width="6" height="46" fill="#3a7757"/><rect x="187" y="771" width="4" height="44" fill="#6fa886"/>
<rect x="195" y="721" width="6" height="50" fill="#3a7757"/><rect x="196" y="722" width="4" height="48" fill="#6fa886"/>
<rect x="204" y="681" width="6" height="40" fill="#3a7757"/><rect x="205" y="682" width="4" height="38" fill="#6fa886"/>
<rect x="212" y="651" width="6" height="31" fill="#3a7757"/><rect x="213" y="652" width="4" height="29" fill="#6fa886"/>
<rect x="221" y="631" width="6" height="20" fill="#3a7757"/><rect x="222" y="632" width="4" height="18" fill="#6fa886"/>
<rect x="229" y="631" width="6" height="6" fill="#98332a"/><rect x="230" y="632" width="4" height="4" fill="#d95442"/>
<rect x="238" y="610" width="6" height="27" fill="#3a7757"/><rect x="239" y="611" width="4" height="25" fill="#6fa886"/>
<rect x="247" y="610" width="6" height="51" fill="#98332a"/><rect x="248" y="611" width="4" height="49" fill="#d95442"/>
<rect x="255" y="649" width="6" height="12" fill="#3a7757"/><rect x="256" y="650" width="4" height="10" fill="#6fa886"/>
<rect x="264" y="649" width="6" height="38" fill="#98332a"/><rect x="265" y="650" width="4" height="36" fill="#d95442"/>
<rect x="272" y="641" width="6" height="46" fill="#3a7757"/><rect x="273" y="642" width="4" height="44" fill="#6fa886"/>
<rect x="281" y="587" width="6" height="54" fill="#3a7757"/><rect x="282" y="588" width="4" height="52" fill="#6fa886"/>
<rect x="290" y="538" width="6" height="51" fill="#3a7757"/><rect x="291" y="539" width="4" height="49" fill="#6fa886"/>
<rect x="298" y="538" width="6" height="5" fill="#98332a"/><rect x="299" y="539" width="4" height="3" fill="#d95442"/>
<rect x="307" y="540" width="6" height="3" fill="#3a7757"/><rect x="308" y="541" width="4" height="1" fill="#6fa886"/>
<rect x="315" y="526" width="6" height="14" fill="#3a7757"/><rect x="316" y="527" width="4" height="12" fill="#6fa886"/>
<rect x="324" y="512" width="6" height="15" fill="#3a7757"/><rect x="325" y="513" width="4" height="13" fill="#6fa886"/>
<rect x="333" y="512" width="6" height="46" fill="#98332a"/><rect x="334" y="513" width="4" height="44" fill="#d95442"/>
<rect x="341" y="558" width="6" height="10" fill="#98332a"/><rect x="342" y="559" width="4" height="8" fill="#d95442"/>
<rect x="350" y="568" width="6" height="62" fill="#98332a"/><rect x="351" y="569" width="4" height="60" fill="#d95442"/>
<rect x="359" y="625" width="6" height="5" fill="#3a7757"/><rect x="360" y="626" width="4" height="3" fill="#6fa886"/>
<rect x="367" y="625" width="6" height="29" fill="#98332a"/><rect x="368" y="626" width="4" height="27" fill="#d95442"/>
<rect x="376" y="619" width="6" height="36" fill="#3a7757"/><rect x="377" y="620" width="4" height="34" fill="#6fa886"/>
<rect x="384" y="618" width="6" height="31" fill="#98332a"/><rect x="385" y="619" width="4" height="29" fill="#d95442"/>
<rect x="393" y="649" width="6" height="51" fill="#98332a"/><rect x="394" y="650" width="4" height="49" fill="#d95442"/>
<rect x="402" y="687" width="6" height="14" fill="#3a7757"/><rect x="403" y="688" width="4" height="12" fill="#6fa886"/>
<rect x="410" y="688" width="6" height="72" fill="#98332a"/><rect x="411" y="689" width="4" height="70" fill="#d95442"/>
<rect x="419" y="742" width="6" height="19" fill="#3a7757"/><rect x="420" y="743" width="4" height="17" fill="#6fa886"/>
<rect x="427" y="694" width="6" height="48" fill="#3a7757"/><rect x="428" y="695" width="4" height="46" fill="#6fa886"/>
<rect x="436" y="694" width="6" height="5" fill="#98332a"/><rect x="437" y="695" width="4" height="3" fill="#d95442"/>
<rect x="445" y="698" width="6" height="39" fill="#98332a"/><rect x="446" y="699" width="4" height="37" fill="#d95442"/>
<rect x="453" y="736" width="6" height="8" fill="#98332a"/><rect x="454" y="737" width="4" height="6" fill="#d95442"/>
<rect x="462" y="736" width="6" height="8" fill="#3a7757"/><rect x="463" y="737" width="4" height="6" fill="#6fa886"/>
<rect x="470" y="736" width="6" height="7" fill="#98332a"/><rect x="471" y="737" width="4" height="5" fill="#d95442"/>
<rect x="479" y="706" width="6" height="39" fill="#3a7757"/><rect x="480" y="707" width="4" height="37" fill="#6fa886"/>
<rect x="488" y="653" width="6" height="53" fill="#3a7757"/><rect x="489" y="654" width="4" height="51" fill="#6fa886"/>
<rect x="496" y="653" width="6" height="4" fill="#98332a"/><rect x="497" y="654" width="4" height="2" fill="#d95442"/>
<rect x="505" y="656" width="6" height="43" fill="#98332a"/><rect x="506" y="657" width="4" height="41" fill="#d95442"/>
<rect x="514" y="697" width="6" height="26" fill="#98332a"/><rect x="515" y="698" width="4" height="24" fill="#d95442"/>
<rect x="522" y="723" width="6" height="2" fill="#98332a"/>
<rect x="531" y="725" width="6" height="10" fill="#98332a"/><rect x="532" y="726" width="4" height="8" fill="#d95442"/>
<rect x="539" y="735" width="6" height="53" fill="#98332a"/><rect x="540" y="736" width="4" height="51" fill="#d95442"/>
<rect x="548" y="787" width="6" height="36" fill="#98332a"/><rect x="549" y="788" width="4" height="34" fill="#d95442"/>
<rect x="557" y="823" width="6" height="14" fill="#98332a"/><rect x="558" y="824" width="4" height="12" fill="#d95442"/>
<rect x="565" y="837" width="6" height="12" fill="#98332a"/><rect x="566" y="838" width="4" height="10" fill="#d95442"/>
<rect x="574" y="842" width="6" height="7" fill="#3a7757"/><rect x="575" y="843" width="4" height="5" fill="#6fa886"/>
<rect x="582" y="841" width="6" height="51" fill="#98332a"/><rect x="583" y="842" width="4" height="49" fill="#d95442"/>
<rect x="591" y="892" width="6" height="108" fill="#98332a"/><rect x="592" y="893" width="4" height="106" fill="#d95442"/>
<rect x="600" y="990" width="6" height="10" fill="#3a7757"/><rect x="601" y="991" width="4" height="8" fill="#6fa886"/>
<rect x="608" y="990" width="6" height="37" fill="#98332a"/><rect x="609" y="991" width="4" height="35" fill="#d95442"/>
<rect x="617" y="993" width="6" height="34" fill="#3a7757"/><rect x="618" y="994" width="4" height="32" fill="#6fa886"/>
<rect x="625" y="994" width="6" height="1" fill="#98332a"/>
<rect x="634" y="960" width="6" height="35" fill="#3a7757"/><rect x="635" y="961" width="4" height="33" fill="#6fa886"/>
<rect x="643" y="947" width="6" height="14" fill="#3a7757"/><rect x="644" y="948" width="4" height="12" fill="#6fa886"/>
<rect x="651" y="947" width="6" height="2" fill="#98332a"/>
<rect x="660" y="929" width="6" height="21" fill="#3a7757"/><rect x="661" y="930" width="4" height="19" fill="#6fa886"/>
<rect x="669" y="929" width="6" height="52" fill="#98332a"/><rect x="670" y="930" width="4" height="50" fill="#d95442"/>
<rect x="677" y="981" width="6" height="40" fill="#98332a"/><rect x="678" y="982" width="4" height="38" fill="#d95442"/>
<rect x="686" y="1011" width="6" height="10" fill="#3a7757"/><rect x="687" y="1012" width="4" height="8" fill="#6fa886"/>
<rect x="694" y="974" width="6" height="37" fill="#3a7757"/><rect x="695" y="975" width="4" height="35" fill="#6fa886"/>
<rect x="703" y="974" width="6" height="50" fill="#98332a"/><rect x="704" y="975" width="4" height="48" fill="#d95442"/>
<rect x="712" y="1024" width="6" height="13" fill="#98332a"/><rect x="713" y="1025" width="4" height="11" fill="#d95442"/>
<rect x="720" y="1032" width="6" height="5" fill="#3a7757"/><rect x="721" y="1033" width="4" height="3" fill="#6fa886"/>
<rect x="729" y="1023" width="6" height="9" fill="#3a7757"/><rect x="730" y="1024" width="4" height="7" fill="#6fa886"/>
<rect x="737" y="1024" width="6" height="4" fill="#98332a"/><rect x="738" y="1025" width="4" height="2" fill="#d95442"/>
<rect x="746" y="1020" width="6" height="8" fill="#3a7757"/><rect x="747" y="1021" width="4" height="6" fill="#6fa886"/>
<rect x="755" y="998" width="6" height="23" fill="#3a7757"/><rect x="756" y="999" width="4" height="21" fill="#6fa886"/>
<rect x="763" y="993" width="6" height="6" fill="#3a7757"/><rect x="764" y="994" width="4" height="4" fill="#6fa886"/>
<rect x="772" y="993" width="6" height="105" fill="#98332a"/><rect x="773" y="994" width="4" height="103" fill="#d95442"/>
<rect x="780" y="1097" width="6" height="2" fill="#98332a"/>
<rect x="789" y="1094" width="6" height="6" fill="#3a7757"/><rect x="790" y="1095" width="4" height="4" fill="#6fa886"/>
<rect x="798" y="1077" width="6" height="17" fill="#3a7757"/><rect x="799" y="1078" width="4" height="15" fill="#6fa886"/>
<rect x="806" y="1077" width="6" height="1" fill="#98332a"/>
<rect x="815" y="1077" width="6" height="9" fill="#98332a"/><rect x="816" y="1078" width="4" height="7" fill="#d95442"/>
<rect x="824" y="1084" width="6" height="2" fill="#3a7757"/>
<rect x="832" y="1084" width="6" height="6" fill="#98332a"/><rect x="833" y="1085" width="4" height="4" fill="#d95442"/>
<rect x="841" y="1077" width="6" height="13" fill="#3a7757"/><rect x="842" y="1078" width="4" height="11" fill="#6fa886"/>
<rect x="849" y="993" width="6" height="84" fill="#3a7757"/><rect x="850" y="994" width="4" height="82" fill="#6fa886"/>
<rect x="858" y="958" width="6" height="35" fill="#3a7757"/><rect x="859" y="959" width="4" height="33" fill="#6fa886"/>
<rect x="867" y="940" width="6" height="18" fill="#3a7757"/><rect x="868" y="941" width="4" height="16" fill="#6fa886"/>
<rect x="875" y="940" width="6" height="13" fill="#98332a"/><rect x="876" y="941" width="4" height="11" fill="#d95442"/>
<rect x="884" y="953" width="6" height="22" fill="#98332a"/><rect x="885" y="954" width="4" height="20" fill="#d95442"/>
<rect x="892" y="929" width="6" height="46" fill="#3a7757"/><rect x="893" y="930" width="4" height="44" fill="#6fa886"/>
<rect x="901" y="930" width="6" height="13" fill="#98332a"/><rect x="902" y="931" width="4" height="11" fill="#d95442"/>
<rect x="910" y="942" width="6" height="21" fill="#98332a"/><rect x="911" y="943" width="4" height="19" fill="#d95442"/>
<rect x="918" y="963" width="6" height="5" fill="#98332a"/><rect x="919" y="964" width="4" height="3" fill="#d95442"/>
<rect x="927" y="869" width="6" height="99" fill="#3a7757"/><rect x="928" y="870" width="4" height="97" fill="#6fa886"/>
<rect x="935" y="869" width="6" height="1" fill="#98332a"/>
<rect x="944" y="867" width="6" height="3" fill="#3a7757"/><rect x="945" y="868" width="4" height="1" fill="#6fa886"/>
<rect x="953" y="864" width="6" height="4" fill="#3a7757"/><rect x="954" y="865" width="4" height="2" fill="#6fa886"/>
<rect x="961" y="836" width="6" height="28" fill="#3a7757"/><rect x="962" y="837" width="4" height="26" fill="#6fa886"/>
<rect x="970" y="836" width="6" height="40" fill="#98332a"/><rect x="971" y="837" width="4" height="38" fill="#d95442"/>
<rect x="979" y="851" width="6" height="25" fill="#3a7757"/><rect x="980" y="852" width="4" height="23" fill="#6fa886"/>
<rect x="987" y="851" width="6" height="12" fill="#98332a"/><rect x="988" y="852" width="4" height="10" fill="#d95442"/>
<rect x="996" y="863" width="6" height="23" fill="#98332a"/><rect x="997" y="864" width="4" height="21" fill="#d95442"/>
<rect x="1004" y="886" width="6" height="3" fill="#98332a"/><rect x="1005" y="887" width="4" height="1" fill="#d95442"/>
<rect x="1013" y="869" width="6" height="20" fill="#3a7757"/><rect x="1014" y="870" width="4" height="18" fill="#6fa886"/>
<rect x="1022" y="869" width="6" height="14" fill="#98332a"/><rect x="1023" y="870" width="4" height="12" fill="#d95442"/>
<rect x="1030" y="883" width="6" height="19" fill="#98332a"/><rect x="1031" y="884" width="4" height="17" fill="#d95442"/>
<rect x="1039" y="895" width="6" height="7" fill="#3a7757"/><rect x="1040" y="896" width="4" height="5" fill="#6fa886"/>
<rect x="1047" y="834" width="6" height="61" fill="#3a7757"/><rect x="1048" y="835" width="4" height="59" fill="#6fa886"/>
<rect x="1056" y="833" width="6" height="2" fill="#3a7757"/>
<rect x="1065" y="833" width="6" height="5" fill="#98332a"/><rect x="1066" y="834" width="4" height="3" fill="#d95442"/>
<rect x="1073" y="837" width="6" height="1" fill="#3a7757"/>
<rect x="1082" y="838" width="6" height="2" fill="#98332a"/>
<rect x="1090" y="840" width="6" height="11" fill="#98332a"/><rect x="1091" y="841" width="4" height="9" fill="#d95442"/>
<rect x="1099" y="852" width="6" height="2" fill="#98332a"/>
<rect x="1108" y="851" width="6" height="3" fill="#3a7757"/><rect x="1109" y="852" width="4" height="1" fill="#6fa886"/>
<rect x="1116" y="851" width="6" height="47" fill="#98332a"/><rect x="1117" y="852" width="4" height="45" fill="#d95442"/>
<rect x="1125" y="898" width="6" height="1" fill="#98332a"/>
<rect x="1133" y="900" width="6" height="2" fill="#98332a"/>
<rect x="1142" y="902" width="6" height="2" fill="#98332a"/>
<rect x="1151" y="892" width="6" height="12" fill="#3a7757"/><rect x="1152" y="893" width="4" height="10" fill="#6fa886"/>
<rect x="1159" y="892" width="6" height="6" fill="#98332a"/><rect x="1160" y="893" width="4" height="4" fill="#d95442"/>
<rect x="1168" y="870" width="6" height="28" fill="#3a7757"/><rect x="1169" y="871" width="4" height="26" fill="#6fa886"/>
<rect x="1177" y="869" width="6" height="1" fill="#98332a"/>
<rect x="1185" y="871" width="6" height="11" fill="#98332a"/><rect x="1186" y="872" width="4" height="9" fill="#d95442"/>
<rect x="1194" y="841" width="6" height="41" fill="#3a7757"/><rect x="1195" y="842" width="4" height="39" fill="#6fa886"/>
<rect x="1202" y="782" width="6" height="59" fill="#3a7757"/><rect x="1203" y="783" width="4" height="57" fill="#6fa886"/>
<rect x="1211" y="775" width="6" height="7" fill="#3a7757"/><rect x="1212" y="776" width="4" height="5" fill="#6fa886"/>
<rect x="1220" y="751" width="6" height="24" fill="#3a7757"/><rect x="1221" y="752" width="4" height="22" fill="#6fa886"/>
<rect x="1228" y="748" width="6" height="4" fill="#3a7757"/><rect x="1229" y="749" width="4" height="2" fill="#6fa886"/>
<rect x="1237" y="746" width="6" height="1" fill="#3a7757"/>
<rect x="1245" y="719" width="6" height="28" fill="#3a7757"/><rect x="1246" y="720" width="4" height="26" fill="#6fa886"/>
<rect x="1254" y="681" width="6" height="39" fill="#3a7757"/><rect x="1255" y="682" width="4" height="37" fill="#6fa886"/>
<rect x="1263" y="681" width="6" height="24" fill="#98332a"/><rect x="1264" y="682" width="4" height="22" fill="#d95442"/>
<rect x="1271" y="689" width="6" height="16" fill="#3a7757"/><rect x="1272" y="690" width="4" height="14" fill="#6fa886"/>
<rect x="1280" y="689" width="6" height="7" fill="#98332a"/><rect x="1281" y="690" width="4" height="5" fill="#d95442"/>
<rect x="1288" y="680" width="6" height="16" fill="#3a7757"/><rect x="1289" y="681" width="4" height="14" fill="#6fa886"/>
<rect x="1297" y="680" width="6" height="22" fill="#98332a"/><rect x="1298" y="681" width="4" height="20" fill="#d95442"/>
<rect x="1306" y="702" width="6" height="2" fill="#98332a"/>
<rect x="1314" y="699" width="6" height="5" fill="#3a7757"/><rect x="1315" y="700" width="4" height="3" fill="#6fa886"/>
<rect x="1323" y="693" width="6" height="6" fill="#3a7757"/><rect x="1324" y="694" width="4" height="4" fill="#6fa886"/>
<rect x="1332" y="640" width="6" height="53" fill="#3a7757"/><rect x="1333" y="641" width="4" height="51" fill="#6fa886"/>
<rect x="1340" y="608" width="6" height="32" fill="#3a7757"/><rect x="1341" y="609" width="4" height="30" fill="#6fa886"/>
<rect x="1349" y="608" width="6" height="4" fill="#98332a"/><rect x="1350" y="609" width="4" height="2" fill="#d95442"/>
<rect x="1357" y="527" width="6" height="84" fill="#3a7757"/><rect x="1358" y="528" width="4" height="82" fill="#6fa886"/>
<rect x="1366" y="489" width="6" height="38" fill="#3a7757"/><rect x="1367" y="490" width="4" height="36" fill="#6fa886"/>
<rect x="1375" y="489" width="6" height="5" fill="#98332a"/><rect x="1376" y="490" width="4" height="3" fill="#d95442"/>
<rect x="1383" y="494" width="6" height="7" fill="#98332a"/><rect x="1384" y="495" width="4" height="5" fill="#d95442"/>
<rect x="1392" y="476" width="6" height="25" fill="#3a7757"/><rect x="1393" y="477" width="4" height="23" fill="#6fa886"/>
<rect x="1400" y="476" width="6" height="12" fill="#98332a"/><rect x="1401" y="477" width="4" height="10" fill="#d95442"/>
<rect x="1409" y="488" width="6" height="23" fill="#98332a"/><rect x="1410" y="489" width="4" height="21" fill="#d95442"/>
<rect x="1418" y="511" width="6" height="4" fill="#98332a"/><rect x="1419" y="512" width="4" height="2" fill="#d95442"/>
<rect x="1426" y="515" width="6" height="12" fill="#98332a"/><rect x="1427" y="516" width="4" height="10" fill="#d95442"/>
<rect x="1435" y="521" width="6" height="6" fill="#3a7757"/><rect x="1436" y="522" width="4" height="4" fill="#6fa886"/>
<rect x="1443" y="521" width="6" height="17" fill="#98332a"/><rect x="1444" y="522" width="4" height="15" fill="#d95442"/>
<rect x="1452" y="507" width="6" height="31" fill="#3a7757"/><rect x="1453" y="508" width="4" height="29" fill="#6fa886"/>
<rect x="1461" y="493" width="6" height="14" fill="#3a7757"/><rect x="1462" y="494" width="4" height="12" fill="#6fa886"/>
<rect x="1469" y="493" width="6" height="5" fill="#98332a"/><rect x="1470" y="494" width="4" height="3" fill="#d95442"/>
<rect x="1478" y="486" width="6" height="12" fill="#3a7757"/><rect x="1479" y="487" width="4" height="10" fill="#6fa886"/>
<rect x="1487" y="486" width="6" height="19" fill="#98332a"/><rect x="1488" y="487" width="4" height="17" fill="#d95442"/>
<rect x="1495" y="505" width="6" height="22" fill="#98332a"/><rect x="1496" y="506" width="4" height="20" fill="#d95442"/>
<rect x="1504" y="528" width="6" height="2" fill="#98332a"/>
<rect x="1512" y="530" width="6" height="49" fill="#98332a"/><rect x="1513" y="531" width="4" height="47" fill="#d95442"/>
<rect x="1521" y="543" width="6" height="36" fill="#3a7757"/><rect x="1522" y="544" width="4" height="34" fill="#6fa886"/>
<rect x="1530" y="495" width="6" height="48" fill="#3a7757"/><rect x="1531" y="496" width="4" height="46" fill="#6fa886"/>
<rect x="1538" y="494" width="6" height="1" fill="#3a7757"/>
<rect x="1547" y="494" width="6" height="68" fill="#98332a"/><rect x="1548" y="495" width="4" height="66" fill="#d95442"/>
<rect x="1555" y="558" width="6" height="4" fill="#3a7757"/><rect x="1556" y="559" width="4" height="2" fill="#6fa886"/>
<rect x="1564" y="558" width="6" height="2" fill="#98332a"/>
<rect x="1573" y="520" width="6" height="40" fill="#3a7757"/><rect x="1574" y="521" width="4" height="38" fill="#6fa886"/>
<rect x="1581" y="520" width="6" height="49" fill="#98332a"/><rect x="1582" y="521" width="4" height="47" fill="#d95442"/>
<rect x="1590" y="569" width="6" height="17" fill="#98332a"/><rect x="1591" y="570" width="4" height="15" fill="#d95442"/>
<rect x="1598" y="556" width="6" height="30" fill="#3a7757"/><rect x="1599" y="557" width="4" height="28" fill="#6fa886"/>
<rect x="1607" y="525" width="6" height="31" fill="#3a7757"/><rect x="1608" y="526" width="4" height="29" fill="#6fa886"/>
<rect x="1616" y="511" width="6" height="14" fill="#3a7757"/><rect x="1617" y="512" width="4" height="12" fill="#6fa886"/>
<rect x="1624" y="511" width="6" height="18" fill="#98332a"/><rect x="1625" y="512" width="4" height="16" fill="#d95442"/>
<rect x="1633" y="529" width="6" height="1" fill="#3a7757"/>
<rect x="1642" y="489" width="6" height="40" fill="#3a7757"/><rect x="1643" y="490" width="4" height="38" fill="#6fa886"/>
<rect x="1650" y="489" width="6" height="7" fill="#98332a"/><rect x="1651" y="490" width="4" height="5" fill="#d95442"/>
<rect x="1659" y="491" width="6" height="5" fill="#3a7757"/><rect x="1660" y="492" width="4" height="3" fill="#6fa886"/>
<rect x="1667" y="426" width="6" height="65" fill="#3a7757"/><rect x="1668" y="427" width="4" height="63" fill="#6fa886"/>
<rect x="1676" y="378" width="6" height="48" fill="#3a7757"/><rect x="1677" y="379" width="4" height="46" fill="#6fa886"/>
<rect x="1685" y="342" width="6" height="37" fill="#3a7757"/><rect x="1686" y="343" width="4" height="35" fill="#6fa886"/>
<rect x="1693" y="342" width="6" height="3" fill="#98332a"/><rect x="1694" y="343" width="4" height="1" fill="#d95442"/>
<rect x="1702" y="329" width="6" height="16" fill="#3a7757"/><rect x="1703" y="330" width="4" height="14" fill="#6fa886"/>
<rect x="1710" y="315" width="6" height="14" fill="#3a7757"/><rect x="1711" y="316" width="4" height="12" fill="#6fa886"/>
<rect x="1719" y="315" width="6" height="40" fill="#98332a"/><rect x="1720" y="316" width="4" height="38" fill="#d95442"/>
<rect x="1728" y="355" width="6" height="7" fill="#98332a"/><rect x="1729" y="356" width="4" height="5" fill="#d95442"/>
<rect x="1736" y="340" width="6" height="22" fill="#3a7757"/><rect x="1737" y="341" width="4" height="20" fill="#6fa886"/>
<rect x="1745" y="340" width="6" height="17" fill="#98332a"/><rect x="1746" y="341" width="4" height="15" fill="#d95442"/>
<rect x="1753" y="328" width="6" height="29" fill="#3a7757"/><rect x="1754" y="329" width="4" height="27" fill="#6fa886"/>
<rect x="1762" y="323" width="6" height="6" fill="#3a7757"/><rect x="1763" y="324" width="4" height="4" fill="#6fa886"/>
<rect x="1771" y="323" width="6" height="20" fill="#98332a"/><rect x="1772" y="324" width="4" height="18" fill="#d95442"/>
<rect x="1779" y="343" width="6" height="6" fill="#98332a"/><rect x="1780" y="344" width="4" height="4" fill="#d95442"/>
<rect x="1788" y="349" width="6" height="2" fill="#98332a"/>
<rect x="1797" y="349" width="6" height="1" fill="#3a7757"/>
<rect x="1805" y="350" width="6" height="8" fill="#98332a"/><rect x="1806" y="351" width="4" height="6" fill="#d95442"/>
<rect x="1814" y="358" width="6" height="66" fill="#98332a"/><rect x="1815" y="359" width="4" height="64" fill="#d95442"/>
<rect x="1822" y="414" width="6" height="10" fill="#3a7757"/><rect x="1823" y="415" width="4" height="8" fill="#6fa886"/>
<rect x="1831" y="396" width="6" height="19" fill="#3a7757"/><rect x="1832" y="397" width="4" height="17" fill="#6fa886"/>
<rect x="1840" y="396" width="6" height="20" fill="#98332a"/><rect x="1841" y="397" width="4" height="18" fill="#d95442"/>
<rect x="1848" y="416" width="6" height="20" fill="#98332a"/><rect x="1849" y="417" width="4" height="18" fill="#d95442"/>
<rect x="1857" y="409" width="6" height="27" fill="#3a7757"/><rect x="1858" y="410" width="4" height="25" fill="#6fa886"/>
<rect x="1865" y="401" width="6" height="7" fill="#3a7757"/><rect x="1866" y="402" width="4" height="5" fill="#6fa886"/>
<rect x="1874" y="361" width="6" height="40" fill="#3a7757"/><rect x="1875" y="362" width="4" height="38" fill="#6fa886"/>
<rect x="1883" y="358" width="6" height="3" fill="#3a7757"/><rect x="1884" y="359" width="4" height="1" fill="#6fa886"/>
<rect x="1891" y="317" width="6" height="42" fill="#3a7757"/><rect x="1892" y="318" width="4" height="40" fill="#6fa886"/>
<rect x="1900" y="307" width="6" height="10" fill="#3a7757"/><rect x="1901" y="308" width="4" height="8" fill="#6fa886"/>
<rect x="1908" y="297" width="6" height="11" fill="#3a7757"/><rect x="1909" y="298" width="4" height="9" fill="#6fa886"/>
<rect x="1917" y="297" width="6" height="14" fill="#98332a"/><rect x="1918" y="298" width="4" height="12" fill="#d95442"/>
<rect x="1926" y="310" width="6" height="1" fill="#3a7757"/>
<rect x="1934" y="310" width="6" height="1" fill="#98332a"/>
<rect x="1943" y="310" width="6" height="19" fill="#98332a"/><rect x="1944" y="311" width="4" height="17" fill="#d95442"/>
<rect x="1952" y="300" width="6" height="30" fill="#3a7757"/><rect x="1953" y="301" width="4" height="28" fill="#6fa886"/>
<rect x="1960" y="296" width="6" height="4" fill="#3a7757"/><rect x="1961" y="297" width="4" height="2" fill="#6fa886"/>
<rect x="1969" y="259" width="6" height="38" fill="#3a7757"/><rect x="1970" y="260" width="4" height="36" fill="#6fa886"/>
<rect x="1977" y="259" width="6" height="8" fill="#98332a"/><rect x="1978" y="260" width="4" height="6" fill="#d95442"/>
<rect x="1986" y="258" width="6" height="10" fill="#3a7757"/><rect x="1987" y="259" width="4" height="8" fill="#6fa886"/>
<rect x="1995" y="258" width="6" height="20" fill="#98332a"/><rect x="1996" y="259" width="4" height="18" fill="#d95442"/>
<rect x="2003" y="259" width="6" height="19" fill="#3a7757"/><rect x="2004" y="260" width="4" height="17" fill="#6fa886"/>
<rect x="2012" y="259" width="6" height="8" fill="#98332a"/><rect x="2013" y="260" width="4" height="6" fill="#d95442"/>
<rect x="2020" y="266" width="6" height="15" fill="#98332a"/><rect x="2021" y="267" width="4" height="13" fill="#d95442"/>
<rect x="2029" y="280" width="6" height="19" fill="#98332a"/><rect x="2030" y="281" width="4" height="17" fill="#d95442"/>
</g>
</g>
<rect x="17" y="1315.3" width="2418.5" height="1.4" fill="#888079"/>
<rect x="2435.5" y="1315" width="107.5" height="1.35" fill="#262221"/>
<rect x="2435" y="46" width="1.1" height="1316.5" fill="#676767"/>
<g font-size="19.8" fill="#555" stroke="#555" stroke-width="0.25">
<text x="2452.6" y="139.8" textLength="73.2" lengthAdjust="spacing">160,000</text>
<text x="2452.6" y="196.1" textLength="73.2" lengthAdjust="spacing">140,000</text>
<text x="2452.6" y="243.9" textLength="73.2" lengthAdjust="spacing">125,000</text>
<text x="2452.6" y="346.5" textLength="61.6" lengthAdjust="spacing">98,000</text>
<text x="2452.6" y="401.6" textLength="61.6" lengthAdjust="spacing">86,000</text>
<text x="2452.6" y="465.0" textLength="61.6" lengthAdjust="spacing">74,000</text>
<text x="2452.6" y="526.2" textLength="61.6" lengthAdjust="spacing">64,000</text>
<text x="2452.6" y="578.7" textLength="61.6" lengthAdjust="spacing">56,500</text>
<text x="2452.6" y="643.1" textLength="61.6" lengthAdjust="spacing">48,500</text>
<text x="2452.6" y="698.8" textLength="61.6" lengthAdjust="spacing">42,500</text>
<text x="2452.6" y="763.0" textLength="61.6" lengthAdjust="spacing">36,500</text>
<text x="2452.6" y="811.9" textLength="61.6" lengthAdjust="spacing">32,500</text>
<text x="2452.6" y="867.3" textLength="61.6" lengthAdjust="spacing">28,500</text>
<text x="2452.6" y="931.1" textLength="61.6" lengthAdjust="spacing">24,500</text>
<text x="2452.6" y="986.1" textLength="61.6" lengthAdjust="spacing">21,500</text>
<text x="2452.6" y="1038.3" textLength="61.6" lengthAdjust="spacing">19,000</text>
<text x="2452.6" y="1095.2" textLength="61.6" lengthAdjust="spacing">16,600</text>
<text x="2452.6" y="1149.3" textLength="61.6" lengthAdjust="spacing">14,600</text>
<text x="2452.6" y="1198.3" textLength="61.6" lengthAdjust="spacing">13,000</text>
<text x="2452.6" y="1246.3" textLength="61.6" lengthAdjust="spacing">11,600</text>
<text x="2452.6" y="1296.5" textLength="61.6" lengthAdjust="spacing">10,300</text>
</g>
<rect x="2441.5" y="52.6" width="96.3" height="43.2" rx="7.5" fill="#fff"/>
<text x="2457.8" y="81.0" font-size="20.2" fill="#131313" stroke="#131313" stroke-width="0.25" textLength="40.7" lengthAdjust="spacing">USD</text>
<rect x="2345" y="285.3" width="92" height="27.4" rx="4" fill="#d95442"/>
<rect x="2435.5" y="285.3" width="99.3" height="49.3" rx="3.5" fill="#d95442"/>
<rect x="2430" y="285.3" width="12" height="27.4" fill="#d95442"/>
<rect x="2435.5" y="312" width="6" height="22.6" fill="#d95442"/>
<rect x="2435" y="285.3" width="1.1" height="49.3" fill="#5a3a36" opacity="0.75"/>
<g font-size="19.6" fill="#fff" stroke="#fff" stroke-width="0.2">
<text x="2352.9" y="305.2" font-size="18.8" textLength="74.5" lengthAdjust="spacing">BTCUSD</text>
<text x="2452.7" y="305.2" textLength="72.5" lengthAdjust="spacing">108,602</text>
<text x="2452.7" y="325.7" fill-opacity="0.85" stroke-opacity="0.85" textLength="59.6" lengthAdjust="spacing">1d 13h</text>
</g>
<g font-size="19" fill="#555">
<text x="159.8" y="1345.6" stroke="#555" stroke-width="0.2" textLength="23.8" lengthAdjust="spacing">Jul</text>
<text x="371.7" y="1345.6" font-weight="bold" fill="#4a4a4a" textLength="48.4" lengthAdjust="spacing">2022</text>
<text x="607.6" y="1345.6" stroke="#555" stroke-width="0.2" textLength="23.8" lengthAdjust="spacing">Jul</text>
<text x="819.4" y="1345.6" font-weight="bold" fill="#4a4a4a" textLength="48.4" lengthAdjust="spacing">2023</text>
<text x="1055.3" y="1345.6" stroke="#555" stroke-width="0.2" textLength="23.8" lengthAdjust="spacing">Jul</text>
<text x="1267.2" y="1345.6" font-weight="bold" fill="#4a4a4a" textLength="48.4" lengthAdjust="spacing">2024</text>
<text x="1503.1" y="1345.6" stroke="#555" stroke-width="0.2" textLength="23.8" lengthAdjust="spacing">Jul</text>
<text x="1723.6" y="1345.6" font-weight="bold" fill="#4a4a4a" textLength="48.4" lengthAdjust="spacing">2025</text>
<text x="1959.4" y="1345.6" stroke="#555" stroke-width="0.2" textLength="23.8" lengthAdjust="spacing">Jul</text>
<text x="2171.3" y="1345.6" font-weight="bold" fill="#4a4a4a" textLength="48.4" lengthAdjust="spacing">2026</text>
<text x="2407.2" y="1345.6" stroke="#555" stroke-width="0.2" textLength="23.8" lengthAdjust="spacing">Jul</text>
</g>
<text x="17.3" y="33.1" font-size="20.9" fill="#dcdcdc" stroke="#dcdcdc" stroke-width="0.35" textLength="661" lengthAdjust="spacing">bitcoinwallah created with TradingView.com, Aug 30, 2025 11:45 UTC</text>
<g font-size="20.2" fill="#4f4f4f" stroke="#4f4f4f" stroke-width="0.3">
<text x="31.1" y="78.9" textLength="346" lengthAdjust="spacing">Bitcoin / U.S. Dollar · 1W · BITSTAMP</text>
<text x="390" y="78.9" textLength="86.4" lengthAdjust="spacing">O<tspan fill="#681f1e" stroke="#681f1e">113,491</tspan></text>
<text x="489" y="78.9" textLength="87.6" lengthAdjust="spacing">H<tspan fill="#681f1e" stroke="#681f1e">113,645</tspan></text>
<text x="590.3" y="78.9" textLength="84.5" lengthAdjust="spacing">L<tspan fill="#681f1e" stroke="#681f1e">107,389</tspan></text>
<text x="688.1" y="78.9" textLength="90.4" lengthAdjust="spacing">C<tspan fill="#681f1e" stroke="#681f1e">108,602</tspan></text>
<text x="792.2" y="78.9" fill="#681f1e" stroke="#681f1e" textLength="161.1" lengthAdjust="spacing">−4,876 (−4.30%)</text>
<text x="31.1" y="108.8" textLength="85.5" lengthAdjust="spacing">Vol · BTC</text>
<text x="129.3" y="108.8" fill="#e8514f" stroke="#e8514f" textLength="57.6" lengthAdjust="spacing">9.32 K</text>
</g>
<g fill="#dadada">
<path d="M20 1400.1H40.9V1424.8H30.3V1409.7H20Z"/>
<circle cx="48.6" cy="1404.8" r="4.7"/>
<path d="M59.5 1400.1H70.7L61.3 1424.8H49.5Z"/>
<text x="82.5" y="1424.8" font-size="35.9" font-weight="bold" stroke="#dadada" stroke-width="0.45" textLength="204.4" lengthAdjust="spacingAndGlyphs">TradingView</text>
</g>
</svg>
</body></html>
